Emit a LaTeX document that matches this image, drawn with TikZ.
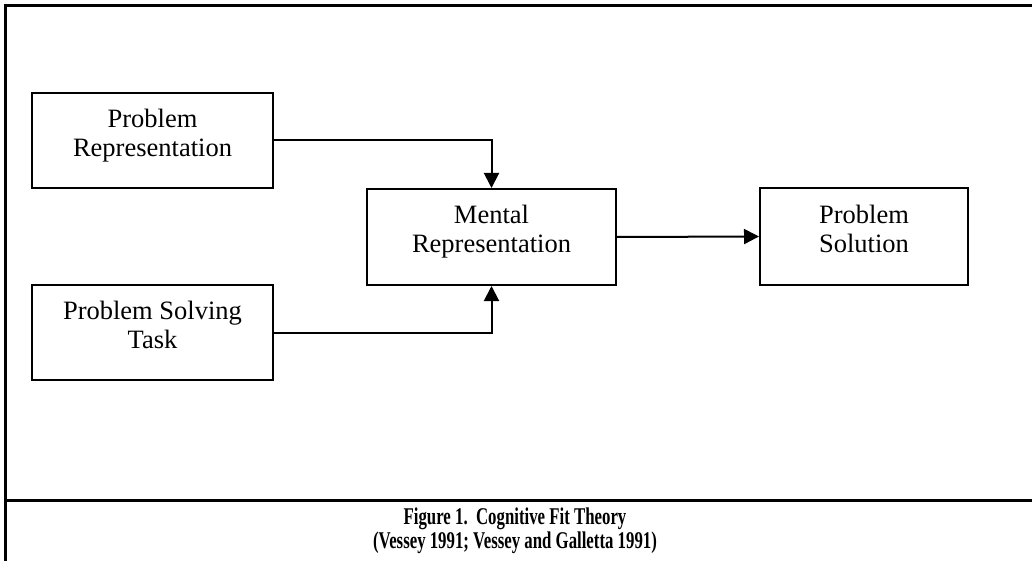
\documentclass[tikz,border=0pt]{standalone}
\usepackage{fontspec}
\setmainfont{Liberation Serif}
\usetikzlibrary{arrows.meta,positioning}
\newcommand{\boxlines}[1]{\raisebox{4.5pt}[\height][\depth]{\begin{tabular}{@{}c@{}}#1\end{tabular}}}

\begin{document}
\begin{tikzpicture}[x=1pt,y=1pt,
  box/.style={draw,line width=2pt,minimum width=241pt,minimum height=95pt,
    font=\fontsize{26.5}{29}\selectfont},
  link/.style={line width=2pt,-{Triangle[length=15pt,width=15pt]}},
  caption/.style={font=\fontsize{24}{24}\selectfont\bfseries,xscale=0.70,
    transform shape,anchor=base}]
  \useasboundingbox (0,0) rectangle (1032,-561);
  % frame
  \draw[line width=3pt] (5.5,-561) -- (5.5,-5.5) -- (1032,-5.5);
  \draw[line width=3pt] (5.5,-500) -- (1032,-500);

  \node[box] (probrep) at (152.5,-140.5) {\boxlines{Problem\\Representation}};
  \node[box] (solvtask) at (152.5,-332.5) {\boxlines{Problem Solving\\Task}};
  \node[box,minimum width=249pt,minimum height=96pt] (mentrep) at (491.5,-237) {\boxlines{Mental\\Representation}};
  \node[box,minimum width=208pt,minimum height=97pt] (probsol) at (864,-236.5) {\boxlines{Problem\\Solution}};

  \draw[link] (probrep.east) -| (mentrep.north);
  \draw[link] (solvtask.east) -| (mentrep.south);
  \draw[link] (mentrep.east) -- (probsol.west);

  \node[caption] (cap1) at (515,-524) {Figure 1.\ \ Cognitive Fit Theory};
  \node[caption] (cap2) at (515,-548) {(Vessey 1991; Vessey and Galletta 1991)};
\end{tikzpicture}
\end{document}
